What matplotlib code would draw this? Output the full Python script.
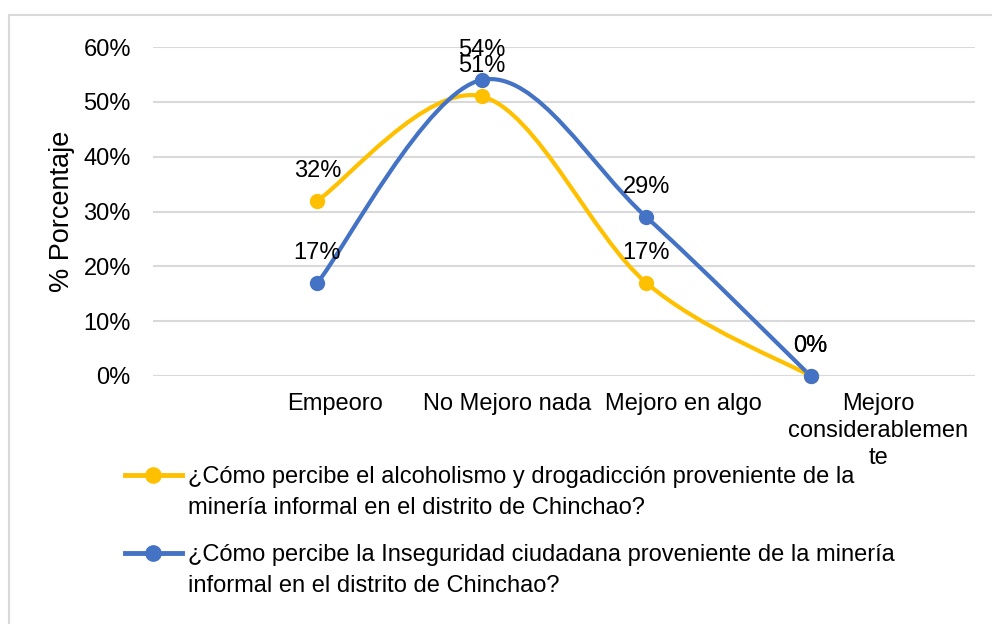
import numpy as np
import matplotlib
matplotlib.use("Agg")
import matplotlib.pyplot as plt
from matplotlib.path import Path
from matplotlib.patches import PathPatch, Rectangle
from matplotlib.lines import Line2D
import matplotlib.transforms as mtrans

plt.rcParams['font.family'] = ['Liberation Sans', 'DejaVu Sans']

categorias = ["Empeoro", "No Mejoro nada", "Mejoro en algo", "Mejoro\nconsiderablemen\nte"]
alcoholismo = [0.32, 0.51, 0.17, 0.0]
inseguridad = [0.17, 0.54, 0.29, 0.0]
serie_nombres = ["¿Cómo percibe el alcoholismo y drogadicción proveniente de la\nminería informal en el distrito de Chinchao?",
                 "¿Cómo percibe la Inseguridad ciudadana proveniente de la minería\ninformal en el distrito de Chinchao?"]
colores = ["#FFC000", "#4472C4"]
yticks = [0, 0.1, 0.2, 0.3, 0.4, 0.5, 0.6]


def suave(xs, ys):
    # bezier tipo catmull-rom, como la linea suavizada de excel
    p = np.column_stack([xs, ys])
    n = len(p)
    verts = [p[0]]
    codes = [Path.MOVETO]
    for i in range(n - 1):
        p0 = p[max(i - 1, 0)]
        p1 = p[i]
        p2 = p[i + 1]
        p3 = p[min(i + 2, n - 1)]
        c1 = p1 + (p2 - p0) / 6
        c2 = p2 - (p3 - p1) / 6
        verts += [c1, c2, p2]
        codes += [Path.CURVE4] * 3
    return Path(verts, codes)


fig = plt.figure(figsize=(9.92, 6.24), dpi=100)
fig.patches.append(Rectangle((9 / 992, -0.1), 1.2, 1 - 15 / 624 + 0.1, transform=fig.transFigure,
                             fill=False, edgecolor="#D9D9D9", lw=1.5))

ax = fig.add_axes([153 / 992, 1 - 376 / 624, 822 / 992, 329 / 624])
x = np.arange(1, len(categorias) + 1)
ax.set_xlim(0, 5)
ax.set_ylim(0, 0.6)

for ys, c in zip([alcoholismo, inseguridad], colores):
    ax.add_patch(PathPatch(suave(x, ys), fill=False, edgecolor=c, lw=3, capstyle='round', zorder=3))
    ax.plot(x, ys, 'o', color=c, ms=10, zorder=4, clip_on=False)
    for xi, yi in zip(x, ys):
        ax.annotate(f"{yi:.0%}", (xi, yi), xytext=(0, 30), textcoords="offset pixels",
                    ha="center", va="center", fontsize=17, zorder=5)

ax.set_yticks(yticks)
ax.set_yticklabels([f"{v:.0%}" for v in yticks], fontsize=17)
ax.tick_params(axis='y', length=0, pad=16)
ax.set_xticks([])
ax.grid(axis='y', color="#D9D9D9", lw=1.5)
ax.set_axisbelow(True)
for s in ax.spines.values():
    s.set_visible(False)
fig.text(62 / 992, 1 - 211 / 624, "% Porcentaje", rotation=90, ha="center", va="center", fontsize=19.5)

pos_etiquetas = [1.107, 2.153, 3.224, 4.41]
tr = mtrans.blended_transform_factory(ax.transData, fig.transFigure)
for px, lab in zip(pos_etiquetas, categorias):
    ax.text(px, 1 - 393 / 624, lab, transform=tr, ha="center", va="top", fontsize=17,
            linespacing=1.3)

# leyenda manual
for i, (nom, c) in enumerate(zip(serie_nombres, colores)):
    yy = 1 - (475 + 78 * i) / 624
    fig.add_artist(Line2D([125 / 992, 182 / 992], [yy, yy], color=c, lw=3.5, transform=fig.transFigure))
    fig.add_artist(Line2D([153 / 992], [yy], marker='o', ms=11, color=c, transform=fig.transFigure))
    fig.text(188 / 992, yy + 9 / 624, nom, ha="left", va="top", fontsize=17, linespacing=1.55)

fig.savefig("out.png", dpi=100)
